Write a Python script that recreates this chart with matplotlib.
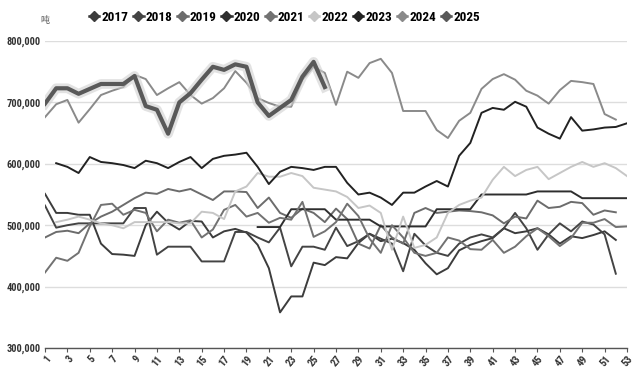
import numpy as np
import matplotlib.pyplot as plt
import matplotlib.patheffects as pe
from matplotlib import font_manager as fm
from matplotlib.lines import Line2D
from matplotlib.ticker import FuncFormatter

# weekly stock, tonnes
weeks = np.arange(1, 54)
nan = np.nan

def pad(vals, start=1):
    # put a series starting at week `start` onto the 53-week axis
    out = [nan] * 53
    for i, v in enumerate(vals):
        out[start - 1 + i] = v * 1000
    return out

y2017 = pad([551, 520, 520, 517, 517, 470, 453, 452, 450, 500, 522, 504, 493, 507, 506, 480,
             490, 494, 488, 468, 430, 358, 384, 384, 439, 435, 448, 446, 471, 486, 474, 478,
             471, 460, 438, 420, 430, 459, 468, 474, 479, 495, 487, 490, 495, 485, 470, 482,
             479, 484, 490, 476])
y2018 = pad([532, 496, 500, 503, 503, 503, 503, 503, 528, 528, 452, 465, 465, 465, 441, 441,
             441, 489, 489, 480, 472, 496, 433, 465, 465, 460, 496, 466, 474, 486, 478, 470,
             425, 486, 467, 455, 450, 470, 480, 485, 480, 495, 520, 495, 460, 485, 503, 490,
             506, 501, 485, 421])
y2019 = pad([480, 489, 491, 487, 503, 514, 522, 533, 544, 553, 551, 559, 555, 559, 550, 541,
             555, 555, 554, 528, 545, 520, 512, 527, 520, 505, 527, 510, 470, 462, 500, 480,
             470, 520, 528, 520, 522, 524, 523, 521, 516, 503, 514, 511, 540, 528, 530, 538,
             536, 517, 524, 521])
y2020 = pad([497, 497, 497, 526, 526, 526, 526, 509, 509, 509, 509, 498, 498, 498, 498, 498,
             526, 526, 526, 526, 550, 550, 550, 550, 550, 555, 555, 555, 555, 544, 544, 544,
             544, 544], start=20)
y2021 = pad([423, 447, 442, 455, 498, 533, 535, 517, 525, 520, 490, 509, 504, 508, 480, 493,
             525, 533, 514, 520, 504, 512, 509, 538, 481, 490, 505, 535, 515, 478, 455, 500,
             480, 455, 450, 455, 480, 475, 461, 460, 476, 455, 465, 482, 495, 482, 466, 479,
             504, 504, 510, 497, 498])
y2022 = pad([505, 509, 514, 509, 503, 500, 495, 505, 505, 505, 505, 503, 503, 522, 520, 510,
             555, 563, 585, 579, 579, 585, 580, 561, 558, 555, 546, 528, 532, 520, 460, 514,
             463, 468, 480, 520, 533, 540, 545, 574, 595, 580, 590, 595, 575, 585, 595, 603,
             595, 601, 593, 580], start=2)
y2023 = pad([601, 595, 585, 611, 603, 601, 598, 593, 605, 601, 593, 603, 611, 593, 608, 613,
             615, 618, 595, 567, 587, 595, 593, 590, 595, 595, 569, 550, 553, 545, 533, 553,
             553, 563, 572, 563, 613, 634, 683, 691, 688, 701, 693, 659, 649, 641, 676, 654,
             656, 659, 660, 666], start=2)
y2024 = pad([676, 697, 704, 667, 689, 712, 719, 725, 745, 738, 712, 723, 733, 712, 698, 707,
             723, 751, 732, 707, 699, 693, 693, 737, 758, 748, 696, 750, 740, 764, 771, 748,
             686, 686, 686, 655, 642, 670, 683, 722, 738, 746, 737, 719, 711, 698, 720, 735,
             733, 730, 681, 672])
y2025 = pad([698, 723, 723, 714, 722, 730, 730, 730, 743, 694, 688, 649, 700, 715, 737, 758,
             753, 762, 758, 700, 678, 691, 704, 742, 766, 725])

years = ['2017', '2018', '2019', '2020', '2021', '2022', '2023', '2024', '2025']
series = [y2017, y2018, y2019, y2020, y2021, y2022, y2023, y2024, y2025]
colors = ['#3c3c3c', '#444444', '#6c6c6c', '#2e2e2e', '#727272', '#c6c6c6', '#222222',
          '#8a8a8a', '#595959']

# the reference uses a narrow bold face; take the first narrow family that is installed
tfont = 'DejaVu Sans'
for name in ['Roboto Condensed', 'Liberation Sans Narrow', 'Arial Narrow',
             'Open Sans Condensed', 'Noto Sans Condensed', 'Lato']:
    try:
        fm.findfont(fm.FontProperties(family=name), fallback_to_default=False)
        tfont = name
        break
    except ValueError:
        pass

fig = plt.figure(figsize=(6.36, 3.73), dpi=100)
ax = fig.add_axes([45 / 636, 1 - 348 / 373, 582 / 636, 307 / 373])

for yr, ys, c in zip(years, series, colors):
    if yr == '2025':
        ax.plot(weeks, ys, color=c, lw=3.0, zorder=10,
                path_effects=[pe.Stroke(linewidth=7, foreground='#d0d0d0', alpha=0.6),
                              pe.Normal()])
    else:
        ax.plot(weeks, ys, color=c, lw=1.4, zorder=3)

ax.set_xlim(1, 53)
ax.set_ylim(300000, 800000)
ax.set_yticks(np.arange(300000, 800001, 100000))
ax.yaxis.set_major_formatter(FuncFormatter(lambda v, p: f'{int(v):,}'))
ax.set_xticks(np.arange(1, 54, 2))
ax.grid(axis='y', color='#dddddd', lw=1.0)
ax.set_axisbelow(True)
for s in ['top', 'right', 'left']:
    ax.spines[s].set_visible(False)
ax.spines['bottom'].set_color('#555555')
ax.spines['bottom'].set_linewidth(1.0)

ax.tick_params(axis='y', length=0, labelsize=7.5, labelcolor='#333333', pad=3)
ax.tick_params(axis='x', length=3, color='#555555', labelsize=7.5, labelcolor='#333333', pad=1)
for lab in ax.get_yticklabels():
    lab.set_fontfamily(tfont)
    lab.set_fontstretch('condensed')
    lab.set_fontweight('bold')
for lab in ax.get_xticklabels():
    lab.set_fontfamily(tfont)
    lab.set_fontstretch('condensed')
    lab.set_fontweight('bold')
    lab.set_rotation(50)
    lab.set_ha('right')
    lab.set_rotation_mode('anchor')

handles = [Line2D([], [], color=c, lw=1.8, marker='D', markersize=5) for c in colors]

def draw_legend(size):
    return fig.legend(handles, years, loc='center', bbox_to_anchor=(0.447, 0.953), ncol=9,
                      frameon=False, handlelength=0.8, handletextpad=0.15, columnspacing=0.35,
                      borderpad=0.1, borderaxespad=0.1,
                      prop={'family': tfont, 'weight': 'bold', 'size': size,
                            'stretch': 'condensed'})

# shrink the legend until it spans about the same width as in the reference (~390 px)
size = 14
leg = draw_legend(size)
r = fig.canvas.get_renderer()
w = leg.get_window_extent(r).width
if w > 395:
    leg.remove()
    size = size * 392 / w
    leg = draw_legend(size)

fig.text(45 / 636, 1 - 20 / 373, '吨', fontsize=6.5, color='#555555',
         family=['Noto Sans CJK SC', 'DejaVu Sans'], ha='center', va='center')

fig.savefig('out.png', dpi=100)
